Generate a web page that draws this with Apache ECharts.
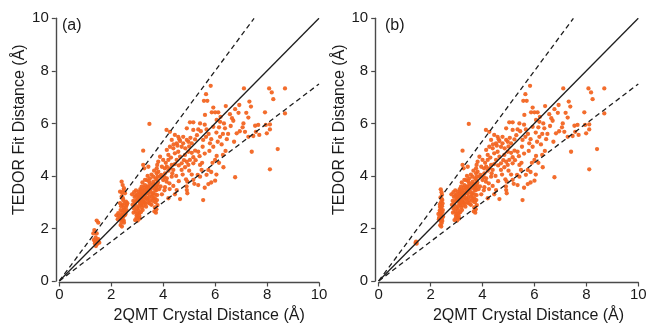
<!DOCTYPE html>
<html><head><meta charset="utf-8">
<script src="https://cdn.jsdelivr.net/npm/echarts@6/dist/echarts.min.js"></script>
<style>html,body{margin:0;padding:0;background:#fff;}#c{width:649px;height:323px;}</style>
</head><body><div id="c"></div>
<script>
// ---- data ----
const panelLabels = ['(a)', '(b)'];
const xTitle = '2QMT Crystal Distance (Å)';
const yTitle = 'TEDOR Fit Distance (Å)';
const axisMin = 0, axisMax = 10, axisStep = 2;
const identityLine = [[0, 0], [10, 10]];
const upperBound = [[0, 0], [7.5, 10]];
const lowerBound = [[0, 0], [10, 7.5]];

// points common to both panels (x > 2.7)
const pointsA_main = [
[5.83,7.43],[7.11,7.33],[8.08,7.33],[8.69,7.33],[8.18,7.18],[8.24,6.92],[5.65,7.11],[5.57,6.86],[5.70,6.86],[7.32,6.83],
[7.38,6.64],[6.93,6.70],[5.93,6.60],[6.41,6.66],[5.87,6.42],[6.00,6.42],[6.12,6.42],[6.77,6.54],[6.57,6.35],[7.92,6.42],
[8.69,6.38],[5.61,6.32],[6.21,6.25],[7.28,6.22],[5.03,6.04],[5.16,6.04],[5.42,6.00],[3.47,5.98],[6.06,6.13],[6.19,6.06],
[6.70,6.10],[7.09,6.00],[5.35,5.77],[5.67,5.77],[5.93,5.87],[6.34,6.00],[6.38,5.81],[7.06,5.85],[7.15,5.68],[7.54,5.91],
[7.66,5.94],[7.95,5.94],[8.11,5.96],[8.11,5.77],[7.57,5.68],[7.70,5.56],[7.99,5.62],[7.28,5.49],[7.47,5.52],[6.83,5.62],
[6.73,5.30],[7.41,4.92],[8.41,5.02],[8.11,4.25],[6.77,3.95],[5.54,3.08],[6.00,3.82],[6.32,4.33],[5.74,3.69],[6.06,4.76],
[6.00,4.61],[5.74,4.23],[5.67,4.04],[5.42,4.42],[5.48,4.23],[5.33,4.04],[5.52,5.11],[5.35,4.92],[5.80,5.24],[5.93,5.11],
[6.19,5.49],[5.65,5.49],[5.54,5.37],[5.23,5.39],[5.10,5.24],[4.91,5.37],[4.97,5.30],[4.77,5.24],[4.71,5.11],[4.52,5.24],
[4.65,5.33],[4.58,5.49],[4.77,5.49],[4.45,5.56],[4.26,5.68],[4.91,5.81],[5.16,5.75],[4.33,5.37],[4.39,5.05],[4.26,5.11],
[4.14,4.99],[4.20,4.80],[4.45,4.86],[4.58,4.92],[4.65,4.73],[4.84,4.80],[4.97,4.92],[5.10,4.88],[5.23,4.96],[4.52,4.61],
[4.71,4.48],[4.91,4.54],[5.03,4.61],[5.16,4.71],[4.20,4.61],[4.33,4.42],[4.14,4.35],[4.26,4.29],[4.39,4.23],[4.71,4.23],
[4.84,4.33],[4.97,4.42],[5.16,4.48],[4.88,3.87],[4.93,3.78],[4.91,3.46],[4.93,3.34],[4.65,3.12],[4.52,3.46],[4.39,3.62],
[4.24,3.72],[4.07,3.57],[4.00,3.84],[4.14,3.91],[4.33,3.97],[3.92,4.04],[4.07,4.10],[4.20,4.20],[3.81,4.54],[3.77,4.42],
[3.75,4.29],[3.81,4.16],[3.78,3.97],[3.76,3.84],[3.78,3.65],[3.75,3.46],[3.77,3.27],[3.76,3.08],[3.78,2.89],[3.74,2.73],
[3.23,4.96],[3.43,4.35],[3.23,4.42],[3.27,4.29],[3.49,3.91],[3.62,3.97],[3.37,3.84],[3.49,3.72],[3.62,3.78],[3.43,3.59],
[3.17,3.59],[3.23,3.46],[3.11,3.34],[3.04,3.21],[2.98,3.08],[3.17,3.15],[3.30,3.27],[3.37,3.40],[3.43,3.34],[3.23,3.02],
[3.11,2.96],[2.91,2.89],[3.00,2.77],[2.95,2.64],[3.08,2.58],[3.21,2.70],[3.34,2.83],[3.49,3.08],[3.56,3.21],[3.62,3.34],
[3.69,3.46],[3.05,3.40],[3.15,3.30],[3.25,3.35],[3.35,3.50],[3.28,3.55],[3.20,3.25],[3.10,3.18],[3.00,3.30],[2.90,3.20],
[2.85,3.05],[2.80,3.30],[2.95,3.45],[3.12,3.50],[3.40,3.60],[3.50,3.50],[3.55,3.65],[3.60,3.55],[3.65,3.70],[3.45,3.20],
[3.38,3.10],[3.28,3.00],[3.15,2.90],[3.05,2.85],[2.98,2.50],[3.04,2.42],[3.10,2.38],[2.92,2.32],[3.00,2.55],[2.88,2.75],
[2.82,2.90],[3.18,2.80],[3.32,2.95],[3.42,2.98],[3.55,2.90],[3.60,3.05],[3.68,3.15],[3.70,3.00],[3.72,3.60],[3.95,3.30],
[4.05,3.45],[4.20,3.15],[4.13,3.78],[3.88,3.97],[3.75,4.10],[3.88,4.73],[4.00,4.61],[4.13,5.75],[4.06,4.29],[5.16,3.85],
[5.42,3.97],[5.20,3.70],[4.90,3.60],[6.25,5.20],[6.40,4.95],[6.50,5.60],[6.10,5.30],[3.30,3.65],[3.20,3.40],[3.08,3.05],
[4.40,5.20],[4.55,5.15],[4.62,5.40],[4.85,5.05],[5.00,5.12],[5.05,5.45],[5.30,5.55],[5.45,5.70],[5.60,5.95],[5.75,5.60],
[5.85,5.40],[6.05,5.65],[6.15,5.85],[6.30,5.60],[6.45,5.40],[6.60,5.90],[6.65,6.20],[6.90,6.40],[6.95,5.70],[7.20,6.40],
[5.25,4.60],[5.40,4.75],[5.60,4.85],[5.78,4.95],[5.90,4.50],[6.15,4.50],[6.30,4.80],[5.85,4.15],[6.05,4.05],[5.50,4.50],
[4.60,4.40],[4.80,4.60],[4.45,4.45],[4.30,4.70],[4.10,4.50],[4.35,4.10],[4.50,4.00],[4.75,4.05],[4.60,3.80],[4.25,3.50],
[4.45,3.30],[4.05,3.95],[3.90,3.60],[3.95,4.35],[3.85,3.50],[3.65,4.20],[3.55,4.05],[3.40,4.00],[3.30,3.85],[3.20,3.75],
[3.45,3.80],[3.52,3.40],[3.58,3.30],[3.62,3.15],[3.48,2.95],[3.36,3.15],[3.25,3.12],[3.12,3.10],[3.02,3.12],[2.95,3.25],
[2.88,3.38],[2.92,3.00],[3.06,2.70],[3.14,2.62],[3.24,2.88],[2.97,2.40],[3.08,2.48],[3.02,2.30],[3.15,3.45],[3.35,3.35],
[3.26,3.20],[3.42,3.45],[3.18,3.00],[2.86,2.60],[3.68,2.80],[3.70,3.30],[3.74,3.55],[3.80,3.75],[3.72,3.90],[3.66,2.65],
[3.72,2.60],[5.00,4.20],[5.10,4.05],[5.35,3.65],[5.60,3.55],[5.85,3.75]
];
const pointsA_low = [
[2.40,3.78],[2.44,3.65],[2.49,3.53],[2.34,3.40],[2.53,3.34],[2.40,3.21],[2.46,3.08],[2.57,3.02],[2.34,2.96],[2.44,2.89],
[2.49,2.77],[2.36,2.70],[2.53,2.64],[2.27,2.58],[2.40,2.51],[2.46,2.45],[2.34,2.39],[2.44,2.32],[2.49,2.22],[2.36,2.13],
[2.41,2.07],[2.57,2.83],[2.59,2.70],[2.62,2.96],[2.42,2.60],[2.47,2.70],[2.38,2.85],[2.50,2.95],[2.45,3.15],[2.52,2.50],
[2.30,2.48],[2.43,2.40],[2.48,2.30],[2.39,2.25],[2.55,2.55],[2.60,2.90],[2.42,3.35],[2.48,3.45],[2.20,2.50],[2.25,2.35],
[1.44,2.30],[1.50,2.22],[1.35,1.94],[1.31,1.81],[1.44,1.81],[1.40,1.66],[1.33,1.56],[1.44,1.54],[1.50,1.59],[1.37,1.43],
[1.46,1.41],[1.54,1.46],[1.41,1.33],[1.48,1.50],[1.38,1.50]
];
const pointsB_low = [
[2.39,3.49],[2.42,3.38],[2.44,3.28],[2.38,3.18],[2.45,3.08],[2.40,3.00],[2.36,2.92],[2.44,2.85],[2.40,2.76],[2.35,2.68],
[2.45,2.62],[2.38,2.55],[2.42,2.48],[2.33,2.42],[2.44,2.36],[2.39,2.28],[2.42,2.20],[2.37,2.12],[2.41,2.07],[2.30,2.55],
[2.47,2.70],[2.36,2.82],[2.46,2.95],[2.32,2.35],[2.48,2.45],[2.43,3.12],[2.37,2.62],[2.45,2.28],
[1.44,1.50],[1.42,1.45],[1.46,1.42],[1.45,1.47]
];

const pointsA = pointsA_main.concat(pointsA_low);
const pointsB = pointsA_main.concat(pointsB_low);

// ---- chart ----
const chart = echarts.init(document.getElementById('c'), null, {renderer: 'canvas'});
const font = 'Liberation Sans, Arial, sans-serif';
const ink = '#1a1a1a';
const axisColor = '#4a4a4a';
const dotColor = '#f26522';
const grids = [
  {left: 59.3, top: 18.3, width: 259.7, height: 262.7, containLabel: false, outerBoundsMode: 'none'},
  {left: 378.7, top: 18.3, width: 259.6, height: 262.7, containLabel: false, outerBoundsMode: 'none'}
];
function xAx(i) {
  return {
    gridIndex: i, type: 'value', min: axisMin, max: axisMax, interval: axisStep,
    offset: 1.5,
    axisLine: {show: true, onZero: false, lineStyle: {color: axisColor, width: 1.4}},
    axisTick: {show: true, length: 4, lineStyle: {color: axisColor, width: 1.2}},
    axisLabel: {color: ink, fontSize: 15, fontFamily: font, margin: 5},
    splitLine: {show: false},
    name: xTitle, nameLocation: 'middle', nameGap: 24,
    nameTextStyle: {color: ink, fontSize: 16, fontFamily: font, padding: [0, 0, 0, 40]}
  };
}
function yAx(i) {
  return {
    gridIndex: i, type: 'value', min: axisMin, max: axisMax, interval: axisStep,
    offset: 3.5,
    axisLine: {show: true, onZero: false, lineStyle: {color: axisColor, width: 1.4}},
    axisTick: {show: true, length: 4, lineStyle: {color: axisColor, width: 1.2}},
    axisLabel: {color: ink, fontSize: 15, fontFamily: font, margin: 7},
    splitLine: {show: false},
    name: yTitle, nameLocation: 'middle', nameGap: 28,
    nameTextStyle: {color: ink, fontSize: 16, fontFamily: font, padding: [0, 0, 0, 40]}
  };
}
const series = [];
[pointsA, pointsB].forEach((pts, i) => {
  series.push({type: 'scatter', xAxisIndex: i, yAxisIndex: i, data: pts, symbol: 'circle', symbolSize: 4.3,
    itemStyle: {color: dotColor, opacity: 0.95}, silent: true, z: 2});
  series.push({type: 'line', xAxisIndex: i, yAxisIndex: i, data: identityLine, symbol: 'none', silent: true, z: 3,
    lineStyle: {color: '#1e1e1e', width: 1.3}});
  series.push({type: 'line', xAxisIndex: i, yAxisIndex: i, data: upperBound, symbol: 'none', silent: true, z: 3,
    lineStyle: {color: '#1e1e1e', width: 1.3, type: [5, 3.5]}});
  series.push({type: 'line', xAxisIndex: i, yAxisIndex: i, data: lowerBound, symbol: 'none', silent: true, z: 3,
    lineStyle: {color: '#1e1e1e', width: 1.3, type: [5, 3.5]}});
});
chart.setOption({
  animation: false,
  backgroundColor: '#fff',
  grid: grids,
  xAxis: [xAx(0), xAx(1)],
  yAxis: [yAx(0), yAx(1)],
  title: panelLabels.map((t, i) => ({text: t, left: i === 0 ? 62 : 385, top: 18,
    textStyle: {color: ink, fontSize: 16, fontWeight: 'normal', fontFamily: font}, padding: 0})),
  series: series
});
</script></body></html>
